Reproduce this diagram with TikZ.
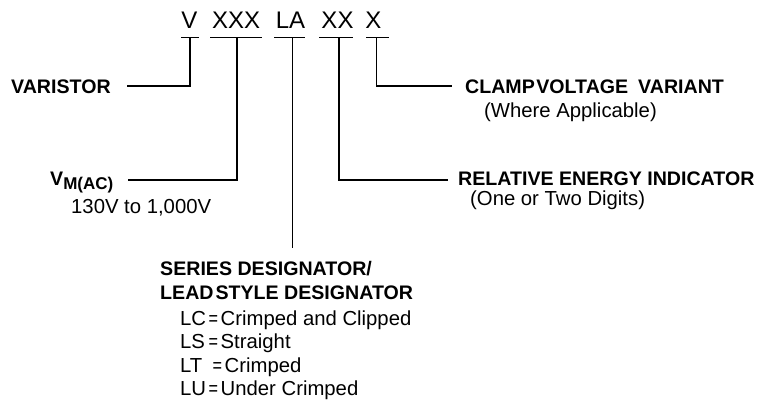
\documentclass[tikz,border=0pt]{standalone}
\usepackage{graphicx}
\usepackage{fontspec}
\setmainfont{Liberation Sans}
\newcommand{\eqsign}{\makebox[12pt][l]{\scalebox{0.8}[1]{=}}}
\begin{document}
\begin{tikzpicture}[x=1pt,y=-1pt,
  code/.style={font=\fontsize{24}{24}\selectfont, inner sep=0pt, anchor=base},
  lbl/.style={font=\fontsize{19.6}{19.6}\selectfont\bfseries, inner sep=0pt, anchor=base west},
  note/.style={font=\fontsize{20.3}{20.3}\selectfont, inner sep=0pt, anchor=base west},
  uline/.style={line width=1.15pt},
  conn/.style={line width=1.15pt}]
\useasboundingbox (0,0) rectangle (759,405);
% code letters
\node[code] (cV)   at (189.5,28.3) {V};
\node[code] (cXXX) at (236.2,28.3) {XXX};
\node[code] (cLA)  at (290.5,28.3) {LA};
\node[code] (cXX)  at (337.5,28.3) {XX};
\node[code] (cX)   at (373.3,28.3) {X};
% underlines
\draw[uline] (181,37.5) -- (199,37.5);
\draw[uline] (210,37.5) -- (262,37.5);
\draw[uline] (274,37.5) -- (305,37.5);
\draw[uline] (319,37.5) -- (353,37.5);
\draw[uline] (366,37.5) -- (389,37.5);
% connector start points on underlines
\coordinate (jV)   at (190,37.5);
\coordinate (jXXX) at (237,37.5);
\coordinate (jLA)  at (292.3,37.5);
\coordinate (jXX)  at (339,37.5);
\coordinate (jX)   at (376.7,37.5);
% connector free ends
\coordinate (eV)   at (127,86);
\coordinate (eXXX) at (128,180);
\coordinate (eLA)  at (292.3,247.7);
\coordinate (eXX)  at (448,180);
\coordinate (eX)   at (451.7,86);
% labels
\node[lbl] (varistor) at (11,93.3) {VARISTOR};
\node[lbl] (vm) at (50,185) {V\raisebox{-4pt}{\fontsize{17}{17}\selectfont M(AC)}};
\node[note] (vmrange) at (71,213) {130V to 1,000V};
\node[lbl] (clamp) at (465,93.3) {CLAMP\hspace{1.5pt}VOLTAGE\hspace{10pt}VARIANT};
\node[note] (where) at (484,117) {(Where Applicable)};
\node[lbl] (rel) at (458,185) {RELATIVE ENERGY INDICATOR};
\node[note] (digits) at (470,205.5) {(One or Two Digits)};
\node[lbl] (series1) at (160,275.7) {SERIES DESIGNATOR/};
\node[lbl] (series2) at (160,299.5) {LEAD\hspace{2pt}STYLE DESIGNATOR};
\node[note] (lc) at (180,325) {\makebox[28.5pt][l]{LC}\eqsign Crimped and Clipped};
\node[note] (ls) at (180,348.5) {\makebox[28.5pt][l]{LS}\eqsign Straight};
\node[note] (lt) at (180,372) {\makebox[32.5pt][l]{LT}\eqsign Crimped};
\node[note] (lu) at (180,395.5) {\makebox[28.5pt][l]{LU}\eqsign Under Crimped};
% connectors
\draw[conn] (jV) |- (eV);
\draw[conn] (jXXX) |- (eXXX);
\draw[conn] (jLA) -- (eLA);
\draw[conn] (jXX) |- (eXX);
\draw[conn] (jX) |- (eX);
\end{tikzpicture}
\end{document}
